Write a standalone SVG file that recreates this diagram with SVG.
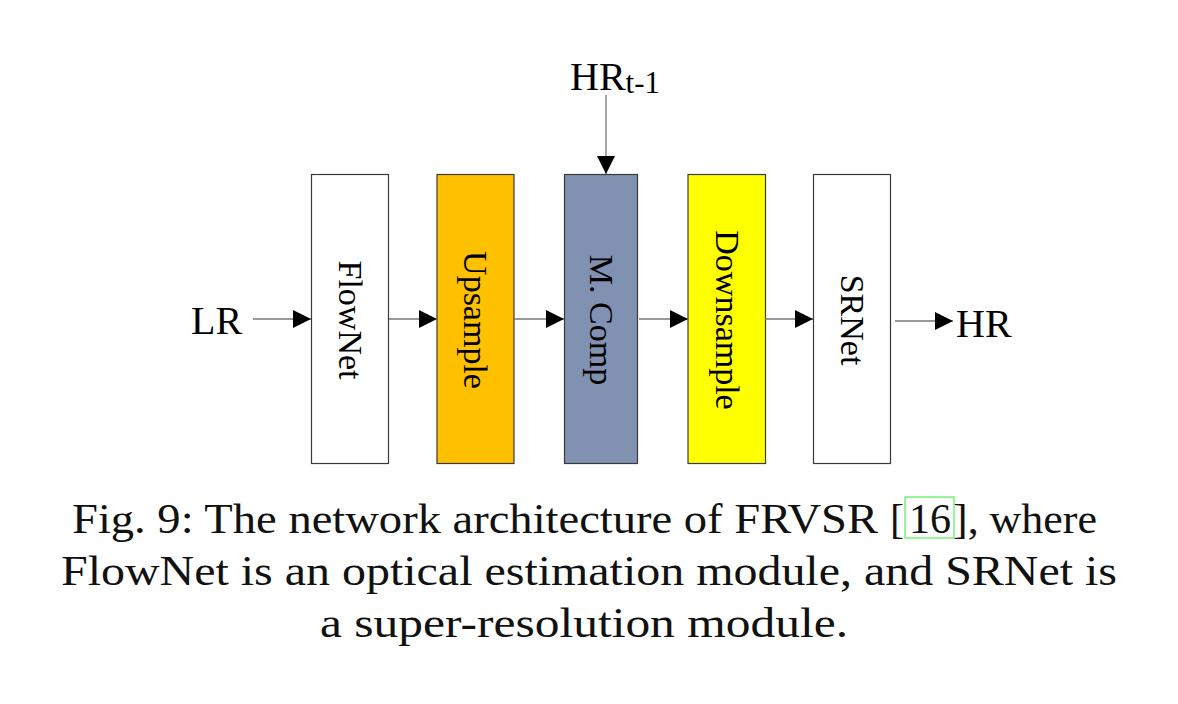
<svg xmlns="http://www.w3.org/2000/svg" width="1178" height="704" viewBox="0 0 1178 704">
<style>
.box{stroke:#3a3a3a;stroke-width:1.2}
.lbl{font-family:"Liberation Serif",serif;font-size:34px;fill:#000;text-anchor:middle;dominant-baseline:central}
.io{font-family:"Liberation Serif",serif;font-size:40px;fill:#000}
.cap{font-family:"Liberation Serif",serif;font-size:42px;fill:#111}
.con{stroke:#777;stroke-width:1.3;fill:none}
</style>
<defs>
<marker id="ah" markerWidth="18" markerHeight="18" refX="18" refY="9" orient="auto" markerUnits="userSpaceOnUse">
<path d="M0,0 L18,9 L0,18 Z" fill="#000"/>
</marker>
</defs>
<rect width="1178" height="704" fill="#fff"/>
<g id="flownet"><rect class="box" x="311.5" y="174.5" width="77" height="289" fill="#fff"/><text class="lbl" transform="translate(350,320) rotate(90)">FlowNet</text></g>
<g id="upsample"><rect class="box" x="437" y="174.5" width="77" height="289" fill="#FFC000"/><text class="lbl" transform="translate(475.5,320) rotate(90)">Upsample</text></g>
<g id="mcomp"><rect class="box" x="564.5" y="174.5" width="73" height="289" fill="#8091B2"/><text class="lbl" transform="translate(601,320) rotate(90)">M. Comp</text></g>
<g id="downsample"><rect class="box" x="688" y="174.5" width="77.5" height="289" fill="#FFFF00"/><text class="lbl" transform="translate(727,320) rotate(90)">Downsample</text></g>
<g id="srnet"><rect class="box" x="813.5" y="174.5" width="77" height="289" fill="#fff"/><text class="lbl" transform="translate(852,320) rotate(90)">SRNet</text></g>
<g id="lr"><text class="io" x="191" y="334">LR</text></g>
<g id="hr"><text class="io" x="956" y="337">HR</text></g>
<g id="hrt1"><text class="io" x="570" y="90">HR<tspan font-size="31" dy="3">t-1</tspan></text></g>
<g id="connectors">
<line class="con" x1="253" y1="319" x2="311" y2="319" marker-end="url(#ah)"/>
<line class="con" x1="389" y1="319" x2="437" y2="319" marker-end="url(#ah)"/>
<line class="con" x1="514" y1="319" x2="564" y2="319" marker-end="url(#ah)"/>
<line class="con" x1="639" y1="319" x2="688" y2="319" marker-end="url(#ah)"/>
<line class="con" x1="765" y1="319" x2="813" y2="319" marker-end="url(#ah)"/>
<line class="con" x1="895" y1="321" x2="953" y2="321" marker-end="url(#ah)"/>
<line class="con" x1="606" y1="95" x2="606" y2="174" marker-end="url(#ah)"/>
</g>
<g id="caption">
<text class="cap" x="72" y="533" textLength="806" lengthAdjust="spacingAndGlyphs">Fig. 9: The network architecture of FRVSR</text>
<text class="cap" x="890" y="533">[</text>
<text class="cap" x="909" y="533" textLength="42" lengthAdjust="spacingAndGlyphs">16</text>
<text class="cap" x="953" y="533" textLength="144" lengthAdjust="spacingAndGlyphs">], where</text>
<rect x="905" y="497" width="49" height="41" fill="none" stroke="#33ee33" stroke-width="1"/>
<text class="cap" x="61" y="585" textLength="1056" lengthAdjust="spacingAndGlyphs">FlowNet is an optical estimation module, and SRNet is</text>
<text class="cap" x="320" y="637" textLength="528" lengthAdjust="spacingAndGlyphs">a super-resolution module.</text>
</g>
</svg>
